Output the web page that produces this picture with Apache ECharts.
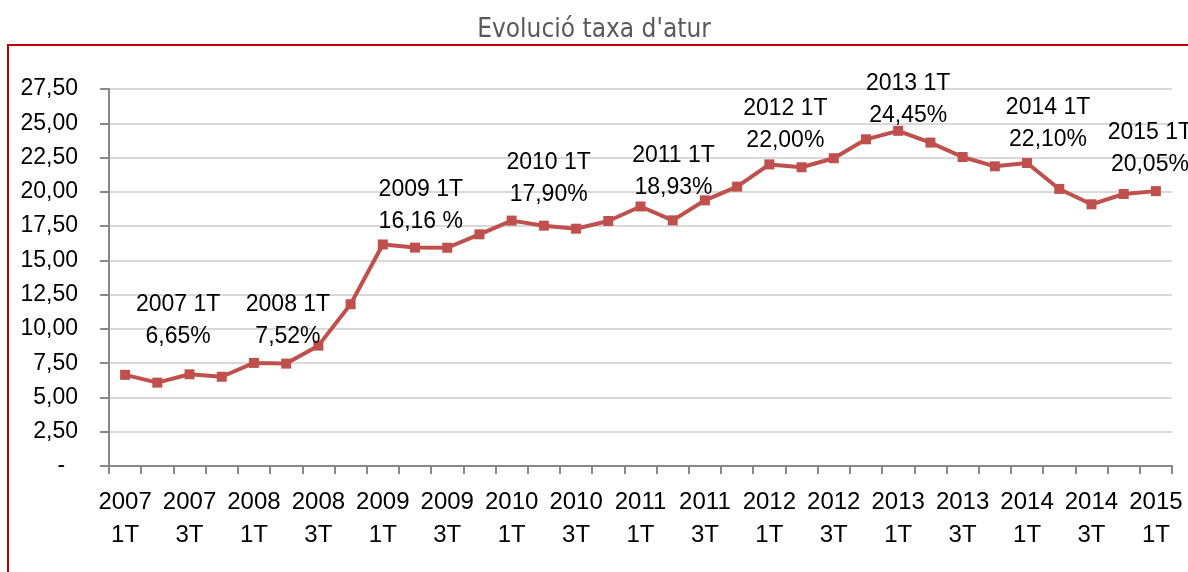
<!DOCTYPE html>
<html>
<head>
<meta charset="utf-8">
<script src="https://cdn.jsdelivr.net/npm/echarts@6/dist/echarts.min.js"></script>
<style>
  html, body { margin: 0; padding: 0; background: #fff; }
  #chart { width: 1188px; height: 572px; }
</style>
</head>
<body>
<div id="chart"></div>
<script>
var years = ['2007', '2008', '2009', '2010', '2011', '2012', '2013', '2014', '2015'];
var quarters = ['1T', '2T', '3T', '4T'];
var categories = [];
years.forEach(function (y) {
    quarters.forEach(function (q) {
        if (y === '2015' && q !== '1T') return;
        categories.push(y + ' ' + q);
    });
});

// taxa d'atur (%) per trimestre
var rates = [
    6.65, 6.08, 6.69, 6.51,
    7.52, 7.47, 8.78, 11.80,
    16.16, 15.93, 15.92, 16.90,
    17.90, 17.53, 17.31, 17.87,
    18.93, 17.92, 19.38, 20.38,
    22.00, 21.79, 22.45, 23.83,
    24.45, 23.59, 22.54, 21.86,
    22.10, 20.21, 19.09, 19.84,
    20.05
];

// etiquetes (només els primers trimestres)
var labelTexts = {
    '2007 1T': '6,65%',
    '2008 1T': '7,52%',
    '2009 1T': '16,16 %',
    '2010 1T': '17,90%',
    '2011 1T': '18,93%',
    '2012 1T': '22,00%',
    '2013 1T': '24,45%',
    '2014 1T': '22,10%',
    '2015 1T': '20,05%'
};
var labelOffsets = {
    '2007 1T': [53, -12],
    '2008 1T': [34, 0],
    '2009 1T': [38, 3],
    '2010 1T': [37, 0],
    '2011 1T': [33, 7],
    '2012 1T': [16, 2],
    '2013 1T': [10, 11],
    '2014 1T': [21, 3],
    '2015 1T': [-6, 0]
};

var seriesData = rates.map(function (v, i) {
    var c = categories[i];
    var item = { value: v };
    if (labelTexts[c]) {
        item.label = {
            show: true,
            position: 'top',
            offset: labelOffsets[c],
            formatter: c + '\n' + labelTexts[c]
        };
    }
    return item;
});

var chart = echarts.init(document.getElementById('chart'));

chart.setOption({
    animation: false,
    title: {
        text: "Evolució taxa d'atur",
        left: 'center',
        top: 12,
        textStyle: {
            color: '#595959',
            fontSize: 26,
            fontWeight: 'normal',
            fontFamily: '"Liberation Sans Narrow", "DejaVu Sans Condensed", sans-serif'
        }
    },
    graphic: [{
        type: 'rect',
        shape: { x: 8, y: 45, width: 1200, height: 600 },
        style: { fill: null, stroke: '#c00000', lineWidth: 2 },
        silent: true
    }],
    grid: {
        left: 109,
        right: 16,
        top: 89,
        bottom: 106
    },
    xAxis: {
        type: 'category',
        data: categories,
        boundaryGap: true,
        axisLine: { lineStyle: { color: '#888888', width: 2 } },
        axisTick: {
            show: true,
            length: 8,
            interval: 0,
            lineStyle: { color: '#888888', width: 2 }
        },
        axisLabel: {
            interval: 1,
            margin: 20,
            color: '#000',
            fontSize: 24,
            lineHeight: 33,
            fontFamily: '"Liberation Sans", Arial, sans-serif',
            formatter: function (v) { return v.replace(' ', '\n'); }
        }
    },
    yAxis: {
        type: 'value',
        min: 0,
        max: 27.5,
        interval: 2.5,
        axisLine: { show: true, lineStyle: { color: '#888888', width: 2 } },
        axisTick: { show: true, length: 9, lineStyle: { color: '#888888', width: 2 } },
        splitLine: { lineStyle: { color: '#d9d9d9', width: 2 } },
        axisLabel: {
            color: '#000',
            fontSize: 23,
            margin: 31,
            fontFamily: '"Liberation Sans", Arial, sans-serif',
            formatter: function (v) {
                return v === 0 ? '-\u2007' : v.toFixed(2).replace('.', ',');
            }
        }
    },
    series: [{
        type: 'line',
        data: seriesData,
        symbol: 'rect',
        symbolSize: 10,
        lineStyle: { color: '#c0504d', width: 4 },
        itemStyle: { color: '#c0504d' },
        label: {
            color: '#000',
            fontSize: 23,
            lineHeight: 32,
            fontFamily: '"Liberation Sans", Arial, sans-serif'
        }
    }]
});
</script>
</body>
</html>
